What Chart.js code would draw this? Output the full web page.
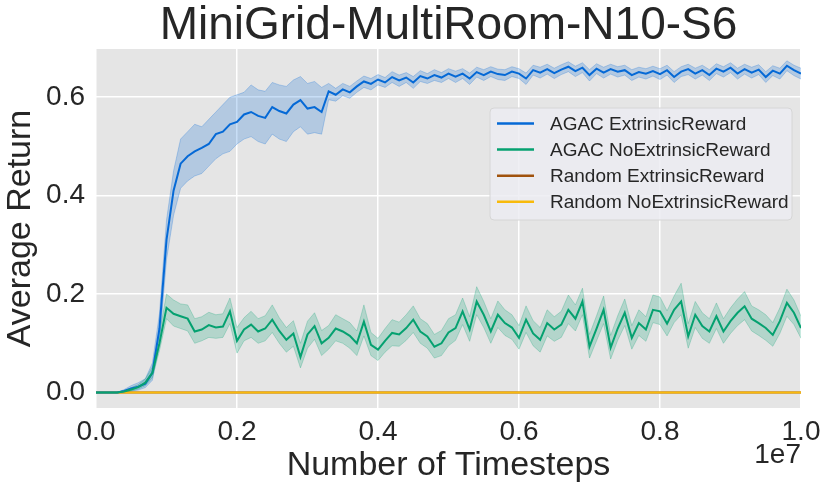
<!DOCTYPE html>
<html>
<head>
<meta charset="utf-8">
<title>MiniGrid-MultiRoom-N10-S6</title>
<script src="https://cdn.jsdelivr.net/npm/chart.js@4.4.0/dist/chart.umd.min.js"></script>
<style>
  html, body { margin: 0; padding: 0; background: #ffffff; }
  #wrap { width: 831px; height: 492px; }
</style>
</head>
<body>
<div id="wrap"><canvas id="myChart" width="831" height="492"></canvas></div>
<script>
// timesteps, one log every 1e5 steps
var timesteps = [0,1e5,2e5,3e5,4e5,5e5,6e5,7e5,8e5,9e5,
  10e5,11e5,12e5,13e5,14e5,15e5,16e5,17e5,18e5,19e5,
  20e5,21e5,22e5,23e5,24e5,25e5,26e5,27e5,28e5,29e5,
  30e5,31e5,32e5,33e5,34e5,35e5,36e5,37e5,38e5,39e5,
  40e5,41e5,42e5,43e5,44e5,45e5,46e5,47e5,48e5,49e5,
  50e5,51e5,52e5,53e5,54e5,55e5,56e5,57e5,58e5,59e5,
  60e5,61e5,62e5,63e5,64e5,65e5,66e5,67e5,68e5,69e5,
  70e5,71e5,72e5,73e5,74e5,75e5,76e5,77e5,78e5,79e5,
  80e5,81e5,82e5,83e5,84e5,85e5,86e5,87e5,88e5,89e5,
  90e5,91e5,92e5,93e5,94e5,95e5,96e5,97e5,98e5,99e5,1e7];

//AGAC ExtrinsicReward: mean, lower and upper band
var agac_ext = [0,0,0,0,0.003,0.008,0.012,0.018,0.04,0.13,
  0.31,0.41,0.465,0.48,0.49,0.497,0.505,0.525,0.53,0.545,
  0.55,0.565,0.57,0.562,0.558,0.58,0.572,0.567,0.585,0.594,
  0.577,0.58,0.57,0.612,0.605,0.616,0.61,0.622,0.632,0.627,
  0.636,0.63,0.641,0.634,0.64,0.63,0.643,0.638,0.645,0.64,
  0.648,0.642,0.648,0.638,0.651,0.645,0.652,0.647,0.645,0.652,
  0.648,0.638,0.655,0.65,0.657,0.649,0.656,0.662,0.653,0.66,
  0.645,0.658,0.65,0.657,0.652,0.655,0.645,0.651,0.648,0.653,
  0.647,0.655,0.641,0.652,0.657,0.648,0.655,0.645,0.658,0.652,
  0.66,0.648,0.657,0.65,0.656,0.641,0.654,0.648,0.664,0.655,0.648];

var agac_ext_low = [0,0,0,0,0,0.003,0.005,0.01,0.025,0.1,
  0.27,0.36,0.415,0.43,0.44,0.445,0.46,0.475,0.485,0.49,
  0.505,0.515,0.52,0.51,0.505,0.525,0.515,0.51,0.53,0.54,
  0.525,0.528,0.525,0.595,0.592,0.603,0.598,0.61,0.62,0.615,
  0.625,0.62,0.63,0.622,0.63,0.618,0.632,0.628,0.634,0.63,
  0.638,0.63,0.638,0.626,0.641,0.634,0.642,0.636,0.634,0.642,
  0.638,0.626,0.645,0.639,0.647,0.638,0.646,0.652,0.642,0.65,
  0.633,0.648,0.639,0.647,0.641,0.645,0.634,0.641,0.637,0.643,
  0.636,0.645,0.63,0.642,0.646,0.637,0.645,0.634,0.648,0.641,
  0.65,0.637,0.647,0.639,0.646,0.63,0.644,0.637,0.654,0.644,0.637];

var agac_ext_high = [0,0,0,0,0.006,0.014,0.02,0.028,0.06,0.16,
  0.35,0.45,0.515,0.53,0.545,0.54,0.555,0.57,0.585,0.6,
  0.605,0.61,0.625,0.615,0.612,0.63,0.625,0.622,0.635,0.642,
  0.628,0.632,0.62,0.628,0.618,0.628,0.622,0.633,0.643,0.638,
  0.646,0.64,0.652,0.645,0.65,0.642,0.654,0.648,0.656,0.65,
  0.658,0.653,0.658,0.649,0.661,0.656,0.662,0.657,0.656,0.662,
  0.658,0.649,0.665,0.661,0.667,0.659,0.666,0.672,0.663,0.67,
  0.656,0.668,0.661,0.667,0.662,0.665,0.656,0.661,0.658,0.663,
  0.658,0.665,0.652,0.662,0.667,0.659,0.665,0.656,0.668,0.662,
  0.67,0.659,0.667,0.661,0.666,0.652,0.664,0.659,0.674,0.665,0.659];

//AGAC NoExtrinsicReward: mean, lower and upper band
var agac_noext = [0,0,0,0,0.002,0.006,0.011,0.02,0.04,0.1,
  0.172,0.16,0.155,0.15,0.124,0.128,0.137,0.132,0.134,0.165,
  0.105,0.128,0.138,0.124,0.13,0.148,0.125,0.107,0.12,0.072,
  0.118,0.135,0.1,0.111,0.13,0.124,0.115,0.1,0.144,0.097,
  0.087,0.105,0.121,0.118,0.131,0.148,0.124,0.114,0.093,0.1,
  0.122,0.131,0.165,0.128,0.185,0.158,0.124,0.158,0.141,0.132,
  0.111,0.148,0.12,0.107,0.141,0.128,0.138,0.168,0.15,0.185,
  0.093,0.13,0.168,0.091,0.13,0.162,0.111,0.141,0.128,0.168,
  0.165,0.14,0.168,0.185,0.114,0.158,0.135,0.124,0.155,0.124,
  0.145,0.162,0.175,0.15,0.141,0.131,0.117,0.145,0.182,0.162,0.131];

var agac_noext_low = [0,0,0,0,0,0.003,0.007,0.014,0.03,0.085,
  0.15,0.135,0.13,0.125,0.1,0.105,0.112,0.11,0.112,0.14,
  0.08,0.105,0.112,0.1,0.105,0.122,0.1,0.082,0.094,0.05,
  0.09,0.108,0.075,0.088,0.105,0.1,0.09,0.075,0.115,0.075,
  0.065,0.082,0.095,0.094,0.106,0.122,0.1,0.09,0.07,0.075,
  0.095,0.106,0.138,0.104,0.158,0.132,0.1,0.132,0.116,0.108,
  0.088,0.122,0.095,0.082,0.115,0.104,0.112,0.14,0.125,0.158,
  0.07,0.105,0.14,0.068,0.106,0.136,0.088,0.116,0.104,0.142,
  0.138,0.115,0.142,0.158,0.09,0.132,0.11,0.1,0.13,0.1,
  0.12,0.136,0.148,0.125,0.116,0.106,0.094,0.12,0.155,0.138,0.11];

var agac_noext_high = [0,0,0,0,0.004,0.01,0.016,0.028,0.052,0.12,
  0.2,0.188,0.18,0.178,0.15,0.154,0.163,0.158,0.16,0.192,
  0.132,0.152,0.165,0.15,0.156,0.178,0.152,0.132,0.146,0.1,
  0.145,0.162,0.126,0.136,0.158,0.15,0.142,0.125,0.178,0.122,
  0.11,0.13,0.148,0.143,0.158,0.176,0.15,0.14,0.118,0.126,
  0.15,0.158,0.192,0.154,0.215,0.185,0.15,0.186,0.168,0.158,
  0.136,0.176,0.146,0.132,0.168,0.154,0.165,0.198,0.178,0.212,
  0.118,0.156,0.196,0.116,0.156,0.19,0.136,0.168,0.154,0.198,
  0.194,0.166,0.196,0.222,0.14,0.185,0.162,0.15,0.182,0.15,
  0.172,0.19,0.205,0.176,0.168,0.158,0.142,0.172,0.21,0.188,0.155];

//Random baselines stay at zero the whole run
var random_steps = [0,2e6,4e6,6e6,8e6,1e7];
var random_ext = [0,0,0,0,0,0];
var random_noext = [0,0,0,0,0,0];

var seriesNames = ['AGAC ExtrinsicReward', 'AGAC NoExtrinsicReward', 'Random ExtrinsicReward', 'Random NoExtrinsicReward'];
var seriesColors = ['#0569d6', '#05a170', '#a0520d', '#f8ba0c'];

var xTicks = [0, 2e6, 4e6, 6e6, 8e6, 1e7];
var yTicks = [0, 0.2, 0.4, 0.6];
var yMin = -0.0315;
var yMax = 0.698;

[agac_ext, agac_ext_low, agac_ext_high, agac_noext, agac_noext_low, agac_noext_high].forEach(function(arr) {
  if (arr.length != timesteps.length) throw new Error('length mismatch ' + arr.length);
});

var FONT = '"Liberation Sans", Arial, Helvetica, sans-serif';
var TEXT = '#262626';

function points(xs, ys) {
  return xs.map(function(x, i) { return {x: x, y: ys[i]}; });
}

function line(label, xs, ys, color, order) {
  return {
    label: label, data: points(xs, ys), borderColor: color, backgroundColor: color,
    borderWidth: 2, pointRadius: 0, fill: false, tension: 0, order: order, legend: true
  };
}

function band(ys, edge, fillColor, fill, order) {
  return {
    label: '', data: points(timesteps, ys), borderColor: edge, backgroundColor: fillColor,
    borderWidth: 1, pointRadius: 0, fill: fill, tension: 0, order: order, legend: false
  };
}

// gray plot background
var plotBackground = {
  id: 'plotBackground',
  beforeDraw: function(chart) {
    var a = chart.chartArea, ctx = chart.ctx;
    ctx.save();
    ctx.fillStyle = '#e5e5e5';
    ctx.fillRect(a.left, a.top, a.right - a.left, a.bottom - a.top);
    ctx.restore();
  }
};

// legend box inside the plot, plus the 1e7 offset label
var legendBox = {
  id: 'legendBox',
  afterDraw: function(chart) {
    var a = chart.chartArea, ctx = chart.ctx;
    var w = 302, h = 112;
    var x = a.right - 9 - w, y = a.top + 59;
    ctx.save();
    ctx.beginPath();
    ctx.roundRect(x, y, w, h, 4);
    ctx.fillStyle = 'rgba(236,236,242,0.85)';
    ctx.fill();
    ctx.strokeStyle = '#d6d6d6';
    ctx.lineWidth = 1;
    ctx.stroke();

    var entries = chart.data.datasets.filter(function(d) { return d.legend; });
    ctx.font = '19px ' + FONT;
    ctx.textBaseline = 'middle';
    ctx.textAlign = 'left';
    entries.forEach(function(d, i) {
      var cy = y + 15.5 + i * 26.1;
      ctx.strokeStyle = d.borderColor;
      ctx.lineWidth = 2.5;
      ctx.beginPath();
      ctx.moveTo(x + 7, cy);
      ctx.lineTo(x + 44, cy);
      ctx.stroke();
      ctx.fillStyle = TEXT;
      ctx.fillText(d.label, x + 60, cy + 1);
    });

    ctx.font = '28px ' + FONT;
    ctx.textAlign = 'right';
    ctx.textBaseline = 'alphabetic';
    ctx.fillText('1e7', a.right, 463);
    ctx.restore();
  }
};

var ctx = document.getElementById('myChart');
var myChart = new Chart(ctx, {
  type: 'line',
  data: {
    datasets: [
      band(agac_ext_low, 'rgba(5,105,214,0.25)', 'rgba(5,105,214,0.22)', false, 10),
      band(agac_ext_high, 'rgba(5,105,214,0.25)', 'rgba(5,105,214,0.22)', '-1', 9),
      band(agac_noext_low, 'rgba(5,161,112,0.25)', 'rgba(5,161,112,0.22)', false, 8),
      band(agac_noext_high, 'rgba(5,161,112,0.25)', 'rgba(5,161,112,0.22)', '-1', 7),
      line(seriesNames[0], timesteps, agac_ext, seriesColors[0], 4),
      line(seriesNames[1], timesteps, agac_noext, seriesColors[1], 3),
      line(seriesNames[2], random_steps, random_ext, seriesColors[2], 6),
      line(seriesNames[3], random_steps, random_noext, seriesColors[3], 5)
    ]
  },
  options: {
    responsive: false,
    animation: false,
    events: [],
    layout: {
      padding: { top: 0, right: 30, bottom: 0, left: 0 }
    },
    plugins: {
      legend: { display: false },
      tooltip: { enabled: false },
      title: {
        display: true,
        text: 'MiniGrid-MultiRoom-N10-S6',
        fullSize: false,
        color: TEXT,
        font: { size: 46, family: FONT, weight: 'normal', lineHeight: 1 },
        padding: { top: 3, bottom: 0 }
      }
    },
    scales: {
      x: {
        type: 'linear',
        min: 0,
        max: 1e7,
        afterBuildTicks: function(scale) {
          scale.ticks = xTicks.map(function(v) { return {value: v}; });
        },
        afterFit: function(scale) { scale.height = 84; },
        grid: { color: '#ffffff', lineWidth: 1.5, drawTicks: false },
        border: { display: false },
        ticks: {
          autoSkip: false,
          maxRotation: 0,
          padding: 7,
          color: TEXT,
          font: { size: 28, family: FONT },
          callback: function(v) { return (v / 1e7).toFixed(1); }
        },
        title: {
          display: true,
          text: 'Number of Timesteps',
          color: TEXT,
          font: { size: 34, family: FONT, lineHeight: 1 },
          padding: { top: 0, bottom: 9 }
        }
      },
      y: {
        min: yMin,
        max: yMax,
        afterBuildTicks: function(scale) {
          scale.ticks = yTicks.map(function(v) { return {value: v}; });
        },
        afterFit: function(scale) { scale.width = 96; },
        grid: { color: '#ffffff', lineWidth: 1.5, drawTicks: false },
        border: { display: false },
        ticks: {
          padding: 11,
          color: TEXT,
          font: { size: 28, family: FONT },
          callback: function(v) { return v.toFixed(1); }
        },
        title: {
          display: true,
          text: 'Average Return',
          color: TEXT,
          font: { size: 34, family: FONT, lineHeight: 1 },
          padding: { top: 4, bottom: 0 }
        }
      }
    }
  },
  plugins: [plotBackground, legendBox]
});
</script>
</body>
</html>
